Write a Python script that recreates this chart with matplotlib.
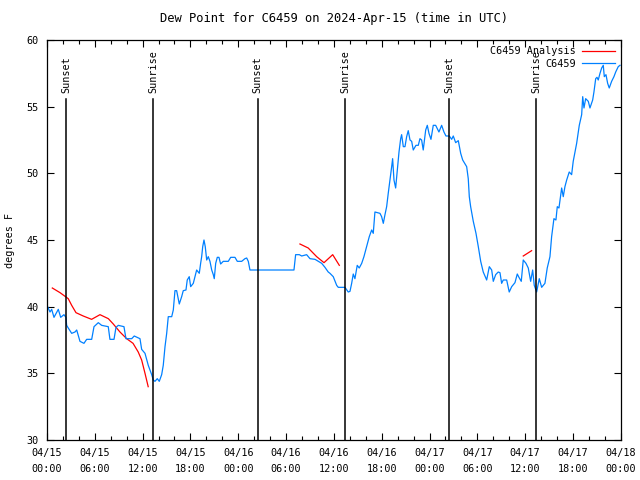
import numpy as np
import matplotlib
matplotlib.use('Agg')
import matplotlib.pyplot as plt
from matplotlib.ticker import MultipleLocator

plt.rcParams['font.family'] = 'DejaVu Sans Mono'
plt.rcParams['font.size'] = 7.3

# hours since 2024-04-15 00:00 UTC
obs_hours = [
    0.0, 0.38, 0.59, 0.88, 1.42, 1.72, 2.13, 2.38, 2.47, 2.67, 3.10, 3.51, 3.73, 4.14, 4.64,
    4.98, 5.61, 5.90, 6.44, 6.86, 7.69, 7.90, 8.41, 8.66, 8.95, 9.66, 9.91, 10.63, 10.95,
    11.67, 11.88, 12.30, 12.71, 13.14, 13.34, 13.55, 13.84, 14.09, 14.39, 14.59, 14.81,
    15.02, 15.22, 15.65, 15.85, 16.06, 16.27, 16.60, 16.90, 17.10, 17.44, 17.60, 17.85,
    18.03, 18.36, 18.78, 19.11, 19.28, 19.41, 19.54, 19.70, 19.86, 20.04, 20.24, 20.45,
    20.67, 20.87, 20.99, 21.17, 21.37, 21.58, 21.79, 22.12, 22.75, 23.05, 23.59, 23.88,
    24.43, 24.84, 25.06, 25.26, 25.47, 30.99, 31.20, 31.66, 31.96, 32.58, 33.00, 33.63,
    34.04, 34.47, 34.88, 35.29, 35.51, 35.92, 36.35, 36.55, 37.39, 37.80, 38.02, 38.23,
    38.43, 38.64, 38.93, 39.18, 39.49, 39.77, 40.11, 40.44, 40.74, 40.94, 41.15, 41.78,
    41.99, 42.20, 42.41, 42.62, 42.82, 43.04, 43.25, 43.37, 43.54, 43.75, 44.00, 44.17,
    44.38, 44.50, 44.71, 44.92, 45.13, 45.33, 45.55, 45.76, 45.96, 46.30, 46.59, 46.80,
    47.01, 47.21, 47.52, 47.72, 47.93, 48.18, 48.47, 48.77, 49.18, 49.52, 49.81, 50.06,
    50.48, 50.78, 50.98, 51.28, 51.61, 51.91, 52.16, 52.66, 52.86, 52.99, 53.16, 53.49,
    53.83, 54.12, 54.42, 54.74, 55.17, 55.50, 55.80, 56.00, 56.30, 56.62, 56.84, 57.05,
    57.25, 57.68, 58.00, 58.31, 58.72, 59.01, 59.22, 59.51, 59.76, 60.10, 60.39, 60.69,
    60.94, 61.14, 61.44, 61.77, 62.07, 62.48, 62.77, 63.11, 63.32, 63.61, 63.86, 64.03,
    64.24, 64.58, 64.78, 64.99, 65.21, 65.53, 65.83, 66.03, 66.46, 66.79, 67.09, 67.22,
    67.38, 67.59, 67.92, 68.13, 68.47, 68.63, 68.85, 69.01, 69.17, 69.39, 69.60, 69.80,
    69.93, 70.14, 70.35, 70.55, 70.85, 71.14, 71.36, 71.68, 71.90,
]
obs_dewpt = [
    40.1, 39.6, 39.8, 39.2, 39.8, 39.2, 39.4, 39.2, 38.6, 38.4, 38.0, 38.1, 38.25, 37.4, 37.25,
    37.55, 37.55, 38.5, 38.8, 38.6, 38.5, 37.55, 37.55, 38.45, 38.6, 38.5, 37.6, 37.6, 37.8,
    37.6, 36.8, 36.5, 35.6, 34.9, 34.5, 34.4, 34.6, 34.4, 34.9, 35.6, 37.0,
    38.0, 39.25, 39.25, 39.75, 41.2, 41.2, 40.2, 40.75, 41.2, 41.25, 42.0, 42.25,
    41.5, 41.75, 42.75, 42.5, 43.25, 43.75, 44.5, 45.0, 44.5, 43.5, 43.75, 43.4,
    42.75, 42.4, 42.1, 43.25, 43.7, 43.7, 43.2, 43.4, 43.4, 43.7, 43.7, 43.4,
    43.4, 43.6, 43.65, 43.4, 42.75, 42.75, 43.9, 43.9, 43.8, 43.9, 43.6, 43.55,
    43.4, 43.25, 42.95, 42.6, 42.5, 42.25, 41.6, 41.45, 41.45, 41.1, 41.15, 41.75,
    42.45, 42.1, 43.1, 42.9, 43.25, 43.75, 44.5, 45.25, 45.75, 45.5, 47.1, 47.0,
    46.75, 46.25, 46.9, 47.5, 48.5, 49.5, 50.5, 51.1, 49.5, 48.9, 50.5, 51.6,
    52.6, 52.9, 52.0, 52.0, 52.75, 53.2, 52.5, 52.4, 51.75, 52.1, 52.1, 52.6,
    52.5, 51.75, 53.25, 53.6, 53.0, 52.55, 53.6, 53.6, 53.1, 53.6, 53.1, 52.8,
    52.8, 52.55, 52.8, 52.3, 52.45, 51.5, 51.0, 50.5, 49.6, 48.25, 47.5, 46.4,
    45.5, 44.5, 43.4, 42.6, 42.0, 43.0, 42.75, 41.9, 42.4, 42.6, 42.55, 41.75,
    42.0, 42.0, 41.1, 41.5, 41.8, 42.45, 42.2, 41.9, 43.5, 43.25, 42.9, 41.9,
    42.75, 41.6, 41.1, 42.1, 41.45, 41.75, 42.9, 43.75, 45.25, 46.6, 46.5, 47.5,
    47.4, 48.9, 48.25, 49.0, 49.5, 50.1, 49.9, 50.9, 52.25, 53.6, 54.4, 55.75,
    54.9, 55.6, 55.4, 54.9, 55.5, 56.1, 57.1, 57.2, 57.0, 57.5, 57.9, 58.1,
    57.25, 57.4, 56.75, 56.4, 56.9, 57.25, 57.6, 58.0, 58.1,
]

# analysis, gaps as NaN
ana_hours = [0.67, 1.64, 2.67, 3.1, 3.64, 4.55, 5.6, 6.65, 7.7, 8.32, 9.16, 10.0, 10.8, 11.45,
             11.88, 12.3, 12.7, 20.0,
             31.74, 32.78, 33.84, 34.76, 35.85, 36.68, 48.0,
             59.76, 60.81]
ana_dewpt = [41.4, 41.05, 40.6, 40.1, 39.55, 39.3, 39.05, 39.4, 39.1, 38.7, 38.1, 37.6, 37.25, 36.6,
             36.0, 35.0, 34.0, np.nan,
             44.7, 44.4, 43.75, 43.3, 43.9, 43.1, np.nan,
             43.8, 44.2]

sun_hours = [2.42, 13.34, 26.42, 37.43, 50.47, 61.4]
sun_labels = ['Sunset', 'Sunrise', 'Sunset', 'Sunrise', 'Sunset', 'Sunrise']

tick_hours = [0, 6, 12, 18, 24, 30, 36, 42, 48, 54, 60, 66, 72]
tick_labels = ['04/15\n00:00', '04/15\n06:00', '04/15\n12:00', '04/15\n18:00',
               '04/16\n00:00', '04/16\n06:00', '04/16\n12:00', '04/16\n18:00',
               '04/17\n00:00', '04/17\n06:00', '04/17\n12:00', '04/17\n18:00',
               '04/18\n00:00']

fig = plt.figure(figsize=(6.4, 4.8), dpi=100)
ax = fig.add_axes([0.0734, 0.0833, 0.8966, 0.8334])

ax.plot(ana_hours, ana_dewpt, color='#ff0000', linewidth=0.9, label='C6459 Analysis')
ax.plot(obs_hours, obs_dewpt, color='#0080ff', linewidth=0.9, label='C6459')

for h, lab in zip(sun_hours, sun_labels):
    ax.plot([h, h], [30, 55.6], color='black', linewidth=1.1)
    ax.text(h, 56.0, lab, rotation=90, ha='center', va='bottom')

ax.set_xlim(0, 72)
ax.set_ylim(30, 60)
ax.set_xticks(tick_hours)
ax.set_xticklabels(tick_labels, linespacing=1.7)
ax.xaxis.set_minor_locator(MultipleLocator(2))
ax.yaxis.set_major_locator(MultipleLocator(5))
ax.tick_params(which='both', direction='in', top=True, right=True, width=0.8)
ax.tick_params(which='major', length=5, pad=6)
ax.tick_params(which='minor', length=3)
for s in ax.spines.values():
    s.set_linewidth(0.9)

ax.set_ylabel('degrees F', va='center')
ax.yaxis.set_label_coords(-0.065, 0.5)
ax.set_title('Dew Point for C6459 on 2024-Apr-15 (time in UTC)', pad=13)

ax.legend(loc='upper right', frameon=False, markerfirst=False, handlelength=3.2,
          borderaxespad=0.2, labelspacing=0.25, handletextpad=0.6)

fig.savefig('out.png', dpi=100)
